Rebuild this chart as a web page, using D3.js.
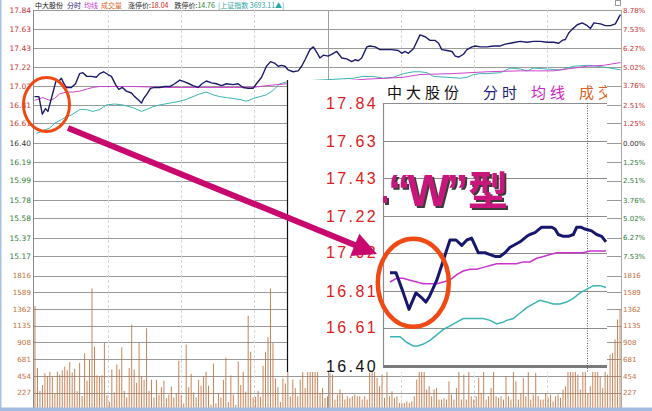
<!DOCTYPE html>
<html><head><meta charset="utf-8">
<script src="https://cdn.jsdelivr.net/npm/d3@7"></script>
<style>
html,body{margin:0;padding:0;background:#fff;}
svg{display:block;}
</style></head><body>
<svg id="c" width="652" height="411"></svg>
<script>
// ---------------- data ----------------
const priceTicks = [17.84,17.63,17.43,17.22,17.02,16.81,16.61,16.40,16.19,15.99,15.78,15.58,15.37,15.17];
const priceTickLabels = ["17.84","17.63","17.43","17.22","17.02","16.81","16.61","16.40","16.19","15.99","15.78","15.58","15.37","15.17"];
const pctTickLabels = ["8.78%","7.53%","6.27%","5.02%","3.76%","2.51%","1.25%","0.00%","1.25%","2.51%","3.76%","5.02%","6.27%","7.53%"];
const priceFloor = 14.96;
const volTicks = [1816,1589,1362,1135,908,681,454,227];
const timeTicks = [30,60,90,120,150,180,210];

const headerParts = [
  {t:"中大股份", c:"#111"}, {t:"分时", c:"#1c1c78"}, {t:"均线", c:"#c83cc8"}, {t:"成交量", c:"#d8651e"},
  {t:"涨停价:", c:"#222"}, {t:"18.04", c:"#d02020"}, {t:"跌停价:", c:"#222"}, {t:"14.76", c:"#1f8a2f"},
  {t:"[上证指数 3693.11▲]", c:"#2aa6a6"}
];

// main intraday price (minute, price)
const priceMinutes = [0,1.8,3.2,4.5,5.5,7.5,8.9,10,11,11.9,13,15.1,16.8,18.5,19.8,21.4,23.3,25.3,26.7,28.3,30.1,31.5,33.2,34.5,36,37.6,39.7,41,42.4,43.8,44.7,46.1,47.5,49.2,51.3,53.3,55.4,57.4,59.5,61.5,63.3,64.9,67,68.6,70.4,72.5,74.5,76.6,78.6,81.3,83.4,85.4,87.5,89.5,90.9,93,95,96.7,98.5,99.8,101.2,102.6,103.9,105.9,108,109.4,110.8,112.8,114.2,115.6,116.9,118.3,120.3,122.4,123.8,125.8,127.9,129.9,131.3,132.6,134,136.1,137.4,139.5,141.5,144.3,146.3,149,150.4,151.8,153.1,155.2,157.9,160,162,164.1,165.5,166.8,168.9,171,172.3,173.7,175.7,177.1,179.2,180.5,182.6,185.3,188,190.8,192.8,194.9,196.9,199,201.7,204.4,207.2,209.9,212.6,214.7,216.1,217.4,218.8,220.2,222.3,224.3,226.4,227.7,229.1,231.8,233.8,235.9,237.9,239.3,240];
const priceValues = [16.90,16.90,16.71,16.77,16.74,16.94,17.08,17.07,17.10,17.05,17.00,17.00,17.04,17.15,17.16,17.12,17.12,17.11,17.15,17.17,17.14,17.12,17.03,16.98,17.00,16.96,16.94,16.90,16.87,16.83,16.88,16.93,16.99,17.00,17.00,17.01,17.01,17.04,17.08,17.06,17.04,17.02,17.00,17.04,17.07,17.05,17.04,17.02,17.04,17.03,17.04,17.00,16.99,16.99,17.04,17.11,17.23,17.28,17.26,17.23,17.24,17.23,17.19,17.17,17.18,17.23,17.30,17.41,17.44,17.38,17.32,17.35,17.34,17.37,17.39,17.32,17.31,17.28,17.30,17.29,17.32,17.44,17.45,17.44,17.41,17.41,17.41,17.40,17.37,17.39,17.37,17.42,17.57,17.55,17.51,17.51,17.48,17.41,17.40,17.39,17.34,17.33,17.36,17.41,17.44,17.45,17.44,17.44,17.45,17.45,17.47,17.48,17.49,17.50,17.49,17.50,17.50,17.49,17.49,17.48,17.51,17.52,17.59,17.63,17.68,17.70,17.67,17.64,17.70,17.69,17.67,17.67,17.69,17.76,17.79];

// main average price line
const avgMinutes = [0,3.4,6.2,8.2,10.3,13,15.7,18.5,21.2,23.9,26.7,33.5,40.3,54,67.7,81.4,89.6,95,103.3,121.4,136.1,151.1,157.9,171.4,185.3,199,212.6,226.4,233.1,240];
const avgValues = [16.86,16.89,16.86,16.88,16.93,16.95,16.95,16.96,16.98,17.00,17.01,17.01,17.01,17.00,17.00,17.00,17.00,17.02,17.04,17.06,17.09,17.11,17.14,17.15,17.17,17.18,17.18,17.23,17.24,17.27];

// main index overlay line
const idxMinutes = [0.8,3.3,6.2,8.2,11,13,15.1,18.5,21.2,23.9,26.7,29.4,32.8,36.2,40.3,43.8,45.8,48.5,51.3,55.4,59.5,62.2,64.9,67.7,70.4,73.1,75.9,78.6,81.4,84.1,86.8,89.6,92.3,95,97.8,100.5,103.3,116.9,130.6,134.6,138.7,142.8,146.9,151.1,155.2,157.9,160.7,163.4,168.9,174.4,177.1,179.8,182.6,185.3,190.8,194.9,199,201.7,204.4,209.9,215.4,220.8,226.4,230.4,235.9,240];
const idxValues = [16.50,16.53,16.56,16.61,16.65,16.68,16.70,16.76,16.76,16.74,16.76,16.81,16.82,16.81,16.78,16.74,16.76,16.79,16.81,16.83,16.85,16.87,16.90,16.93,16.95,16.92,16.90,16.89,16.88,16.87,16.85,16.88,16.90,16.92,16.97,17.04,17.06,17.08,17.10,17.12,17.12,17.10,17.11,17.15,17.17,17.17,17.16,17.12,17.11,17.10,17.11,17.14,17.15,17.15,17.16,17.21,17.20,17.18,17.21,17.20,17.19,17.23,17.24,17.23,17.21,17.19];

// volume per bar
const volumes = [1400,560,250,330,490,450,510,440,220,510,470,530,580,530,640,500,550,250,630,180,760,390,670,1640,850,460,440,460,900,190,100,540,230,610,540,840,250,160,560,1150,540,360,900,450,400,1100,250,400,160,400,200,300,390,150,200,310,160,220,660,190,80,880,300,480,230,160,400,320,450,510,320,60,620,80,220,160,400,700,100,460,200,60,650,330,510,240,1270,780,160,170,250,170,590,780,980,1640,900,420,300,100,420,350,540,
177,404,290,177,404,600,290,560,700,640,580,620,222,290,155,177,494,471,132,200,268,222,132,177,155,177,200,177,177,132,177,132,494,620,540,426,313,471,155,580,177,245,155,177,87,87,87,109,87,109,177,404,600,680,560,268,313,177,268,290,132,132,155,132,381,200,132,290,610,132,471,132,650,177,132,177,426,222,590,132,177,290,620,177,155,177,132,449,177,132,560,381,132,222,426,177,600,132,200,494,177,132,132,222,155,200,109,177,200,155,268,313,580,640,700,560,471,268,620,560,222,313,600,660,540,449,290,580,471,743,766,947,1219,1355];

// inset (magnified view)
const insetTicks = [17.84,17.63,17.43,17.22,17.02,16.81,16.61,16.40];
const insetTickLabels = ["17.84","17.63","17.43","17.22","17.02","16.81","16.61","16.40"];
const insetHeader = [{t:"中大股份", c:"#111"}, {t:"分时", c:"#1c1c78"}, {t:"均线", c:"#cc22cc"}, {t:"成交", c:"#e0601c"}];
const insetMinutes = [0,2.5,5.3,7.9,10.8,13.5,14.9,16.4,19.5,22.5,25,27.5,29.9,32,34,35.4,36.8,39.6,41.7,43.75,45.8,47.9,50,51.4,54.2,57,58.3,60.4,63.2,65.3,67.4,68.75,70.1,72.2,74.3,76.4,77.8,79.5,81.25,84,86.1,88.2,90];
const insetPrice = [16.91,16.91,16.81,16.71,16.80,16.77,16.75,16.78,16.87,16.99,17.09,17.09,17.06,17.09,17.10,17.06,17.02,17.02,17.01,17.00,17.00,17.02,17.05,17.06,17.08,17.11,17.12,17.13,17.16,17.16,17.16,17.15,17.12,17.11,17.11,17.12,17.16,17.16,17.15,17.14,17.12,17.11,17.08];
const insetAvgMinutes = [0,2.8,5.5,8.3,11.1,13.9,16.7,19.5,22.2,25,27.8,30.5,33.3,36.1,38.9,41.7,44.5,47.2,50,52.8,55.5,58.3,61.1,63.9,66.7,69.5,72.2,75,77.8,80.5,83.3,86.1,90];
const insetAvg = [16.86,16.88,16.88,16.87,16.86,16.85,16.85,16.85,16.86,16.87,16.90,16.92,16.93,16.93,16.94,16.95,16.96,16.96,16.96,16.96,16.97,16.97,16.99,17.00,17.01,17.02,17.02,17.02,17.02,17.02,17.03,17.03,17.03];
const insetIdxMinutes = [0,2.1,4.2,6.9,9.7,11.5,13.9,16.7,19.5,22.2,25,27.8,30.5,33.3,36.1,38.9,41.7,44.5,47.2,48.6,51.4,54.2,57,59.7,62.5,65.3,68,70.8,73.6,76.4,79.2,81.9,84.7,87.5,90];
const insetIdx = [16.56,16.56,16.56,16.53,16.51,16.51,16.52,16.54,16.57,16.60,16.62,16.64,16.66,16.66,16.66,16.66,16.65,16.63,16.64,16.65,16.66,16.69,16.72,16.74,16.76,16.75,16.74,16.74,16.75,16.77,16.80,16.82,16.84,16.84,16.83];
const insetMarker = 82;   // dotted cursor minute in inset
const annotationQuoted = "“W”";
const annotationSuffix = "型";

// ---------------- layout / styles ----------------
const L = 33, R = 621, T = 10, B = 409;
const RED = "#c83232", GREEN = "#2e7d3a", VOLC = "#c0703c", GRID = "#9a9a9a";
const NAVY = "#1b1b6b", MAG = "#cc44cc", TEAL = "#3cb4b4";
const fnum = "'DejaVu Sans', Verdana, sans-serif";
const fcjk = "'Noto Sans CJK SC', sans-serif";
const flat = "'Liberation Sans', Arial, sans-serif";

const svg = d3.select("#c");
const defs = svg.append("defs");
defs.append("clipPath").attr("id","mainClip").append("rect").attr("x",L).attr("y",T).attr("width",R-L+1).attr("height",B-T);
defs.append("clipPath").attr("id","insetClip").append("rect").attr("x",287).attr("y",80).attr("width",320).attr("height",292);
const shadow = defs.append("filter").attr("id","shadow").attr("x","-10%").attr("y","-10%").attr("width","130%").attr("height","130%");
shadow.append("feDropShadow").attr("dx",2).attr("dy",2).attr("stdDeviation",0.4).attr("flood-color","#3a3a3a").attr("flood-opacity",1);

svg.append("rect").attr("width",652).attr("height",411).attr("fill","#fff");

const x = d3.scaleLinear().domain([0,240]).range([34.5,620.5]);
const y = d3.scaleLinear().domain([priceFloor,17.84]).range([275.5,10]);
const vy = d3.scaleLinear().domain([0,1816]).range([409.3,275.5]);
const xv = d3.scaleLinear().domain([0, volumes.length-1]).range([35,620]);
const crisp = v => Math.round(v) + 0.5;

// gridlines
const grid = svg.append("g");
grid.selectAll("line.h").data(priceTicks.concat([priceFloor])).join("line")
  .attr("x1",L).attr("x2",R).attr("y1",d=>crisp(y(d))).attr("y2",d=>crisp(y(d)))
  .attr("stroke",GRID).attr("stroke-width",1);
grid.selectAll("line.v").data(volTicks.slice(1)).join("line")
  .attr("x1",L).attr("x2",R).attr("y1",d=>crisp(vy(d))).attr("y2",d=>crisp(vy(d)))
  .attr("stroke",GRID).attr("stroke-width",1);
grid.selectAll("line.t").data(timeTicks).join("line")
  .attr("x1",d=>crisp(x(d))).attr("x2",d=>crisp(x(d))).attr("y1",T).attr("y2",B)
  .attr("stroke",d=>d===120?"#a0a0a0":"#d8d8d8")
  .attr("stroke-dasharray",d=>d===120?null:"3,2");
svg.append("line").attr("x1",L+0.5).attr("x2",L+0.5).attr("y1",T).attr("y2",B).attr("stroke","#888");
svg.append("line").attr("x1",R+0.5).attr("x2",R+0.5).attr("y1",T).attr("y2",B).attr("stroke","#aaa");

// axes
function styleAxis(g, colorFn, size){
  g.select(".domain").remove();
  g.selectAll(".tick line").remove();
  g.selectAll("text").style("font-family",fnum).style("font-size",size+"px").attr("fill",colorFn);
}
const priceColor = d => d > 16.405 ? RED : (d < 16.395 ? GREEN : "#333");
const gL = svg.append("g").attr("transform","translate(31,0)")
  .call(d3.axisLeft(y).tickValues(priceTicks).tickSize(0).tickPadding(0).tickFormat((d,i)=>priceTickLabels[i]));
styleAxis(gL, priceColor, 7.5);
const gLV = svg.append("g").attr("transform","translate(31,0)")
  .call(d3.axisLeft(vy).tickValues(volTicks).tickSize(0).tickPadding(0).tickFormat(d=>String(d)));
styleAxis(gLV, VOLC, 7.2);
const gR = svg.append("g").attr("transform","translate(623,0)")
  .call(d3.axisRight(y).tickValues(priceTicks).tickSize(0).tickPadding(0).tickFormat((d,i)=>pctTickLabels[i]));
styleAxis(gR, priceColor, 7);
const gRV = svg.append("g").attr("transform","translate(623,0)")
  .call(d3.axisRight(vy).tickValues(volTicks).tickSize(0).tickPadding(0).tickFormat(d=>String(d)));
styleAxis(gRV, VOLC, 7);

// header
const hdr = svg.append("text").attr("x",35).attr("y",8).style("font-family",fcjk).style("font-size","7px");
const hdrDx = [0,4,3,3,6,0,6,0,3];
headerParts.forEach((p,i)=>hdr.append("tspan").attr("dx",hdrDx[i]).attr("fill",p.c).text(p.t));
svg.append("rect").attr("x",615.5).attr("y",0.5).attr("width",5).attr("height",5).attr("fill","none").attr("stroke","#999");

// main chart content
const mainG = svg.append("g").attr("clip-path","url(#mainClip)");
mainG.selectAll("rect.vol").data(volumes).join("rect")
  .attr("x",(d,i)=>xv(i)-0.5).attr("width",1)
  .attr("y",d=>vy(d)).attr("height",d=>vy(0)-vy(d))
  .attr("fill",VOLC).attr("opacity",0.85);
const line = d3.line().x(d=>x(d[0])).y(d=>y(d[1]));
mainG.append("path").datum(d3.zip(idxMinutes,idxValues)).attr("d",line).attr("fill","none").attr("stroke",TEAL).attr("stroke-width",1);
mainG.append("path").datum(d3.zip(avgMinutes,avgValues)).attr("d",line).attr("fill","none").attr("stroke",MAG).attr("stroke-width",1);
mainG.append("path").datum(d3.zip(priceMinutes,priceValues)).attr("d",line).attr("fill","none").attr("stroke",NAVY).attr("stroke-width",1.4).attr("stroke-linejoin","round");

// frame strips
svg.append("rect").attr("x",0).attr("y",0).attr("width",1.5).attr("height",411).attr("fill","#a9c1e3");
svg.append("rect").attr("x",0).attr("y",407.5).attr("width",652).attr("height",3.5).attr("fill","#a3bbde");

// ---------------- inset ----------------
const ix = d3.scaleLinear().domain([0,90]).range([390,606]);
const iy = d3.scaleLinear().domain([16.40,17.84]).range([366,103]);
const ins = svg.append("g").attr("clip-path","url(#insetClip)");
ins.append("rect").attr("x",287).attr("y",80).attr("width",320).attr("height",292).attr("fill","#fff");
ins.selectAll("line.ig").data(insetTicks).join("line")
  .attr("x1",383).attr("x2",607).attr("y1",d=>crisp(iy(d))).attr("y2",d=>crisp(iy(d)))
  .attr("stroke",d=>d===16.40?"#7a7a7a":"#8c8c8c").attr("stroke-width",d=>d===16.40?3:1.2);
ins.append("line").attr("x1",383.5).attr("x2",383.5).attr("y1",103).attr("y2",366).attr("stroke","#8c8c8c").attr("stroke-width",1.2);
ins.append("line").attr("x1",crisp(ix(insetMarker))).attr("x2",crisp(ix(insetMarker))).attr("y1",103).attr("y2",372)
  .attr("stroke","#555").attr("stroke-dasharray","1,1.5");
const gI = ins.append("g").attr("transform","translate(378,0)")
  .call(d3.axisLeft(iy).tickValues(insetTicks).tickSize(0).tickPadding(0).tickFormat((d,i)=>insetTickLabels[i]));
gI.select(".domain").remove();
gI.selectAll("text").style("font-family",flat).style("font-size","16px")
  .style("letter-spacing","2.4px").attr("fill",d=>d===16.40?"#111":"#dd2020");
const ih = ins.append("text").attr("x",387).attr("y",98).style("font-family",fcjk).style("font-size","15px").style("letter-spacing","4px");
const ihDx = [0,20,10,10];
insetHeader.forEach((p,i)=>ih.append("tspan").attr("dx",ihDx[i]).attr("fill",p.c).text(p.t));
const iline = d3.line().x(d=>ix(d[0])).y(d=>iy(d[1]));
ins.append("path").datum(d3.zip(insetIdxMinutes,insetIdx)).attr("d",iline).attr("fill","none").attr("stroke",TEAL).attr("stroke-width",1.5);
ins.append("path").datum(d3.zip(insetAvgMinutes,insetAvg)).attr("d",iline).attr("fill","none").attr("stroke","#cc33cc").attr("stroke-width",1.5);
ins.append("path").datum(d3.zip(insetMinutes,insetPrice)).attr("d",iline).attr("fill","none").attr("stroke","#17176e").attr("stroke-width",3).attr("stroke-linejoin","round");
svg.append("line").attr("x1",287.5).attr("x2",287.5).attr("y1",80).attr("y2",372).attr("stroke","#111").attr("stroke-width",1.2);

// ---------------- annotations ----------------
const ARROW = "#c8086e";
const a0 = [68,128], tip = [377,254];
const ang = Math.atan2(tip[1]-a0[1], tip[0]-a0[0]);
const hl = 24, hw = 12;
const base = [tip[0]-hl*Math.cos(ang), tip[1]-hl*Math.sin(ang)];
svg.append("line").attr("x1",a0[0]).attr("y1",a0[1]).attr("x2",base[0]+2*Math.cos(ang)).attr("y2",base[1]+2*Math.sin(ang))
  .attr("stroke",ARROW).attr("stroke-width",6);
svg.append("polygon").attr("fill",ARROW).attr("points",[
  tip, [base[0]+hw*Math.sin(ang), base[1]-hw*Math.cos(ang)], [base[0]-hw*Math.sin(ang), base[1]+hw*Math.cos(ang)]
].map(p=>p.join(",")).join(" "));

svg.append("ellipse").attr("cx",46.5).attr("cy",104.5).attr("rx",23).attr("ry",27)
  .attr("fill","none").attr("stroke","#f04a14").attr("stroke-width",3);
svg.append("ellipse").attr("cx",413.3).attr("cy",282.8).attr("rx",35.5).attr("ry",44)
  .attr("fill","none").attr("stroke","#f04a14").attr("stroke-width",4.5);

// "W" label with shadow (single text element)
const WC = "#c8177c";
const wg = svg.append("g").attr("filter","url(#shadow)").attr("fill",WC);
wg.append("rect").attr("x",383).attr("y",196).attr("width",4).attr("height",7);
const wt = wg.append("text").attr("x",388).attr("y",206).style("font-family",flat).style("font-weight","bold").style("font-size","45px")
  .style("letter-spacing","-3.5px").text(annotationQuoted);
wg.append("text").attr("x",468).attr("y",205).style("font-family",fcjk).style("font-weight","bold").style("font-size","40px")
  .text(annotationSuffix);
</script>
</body></html>
